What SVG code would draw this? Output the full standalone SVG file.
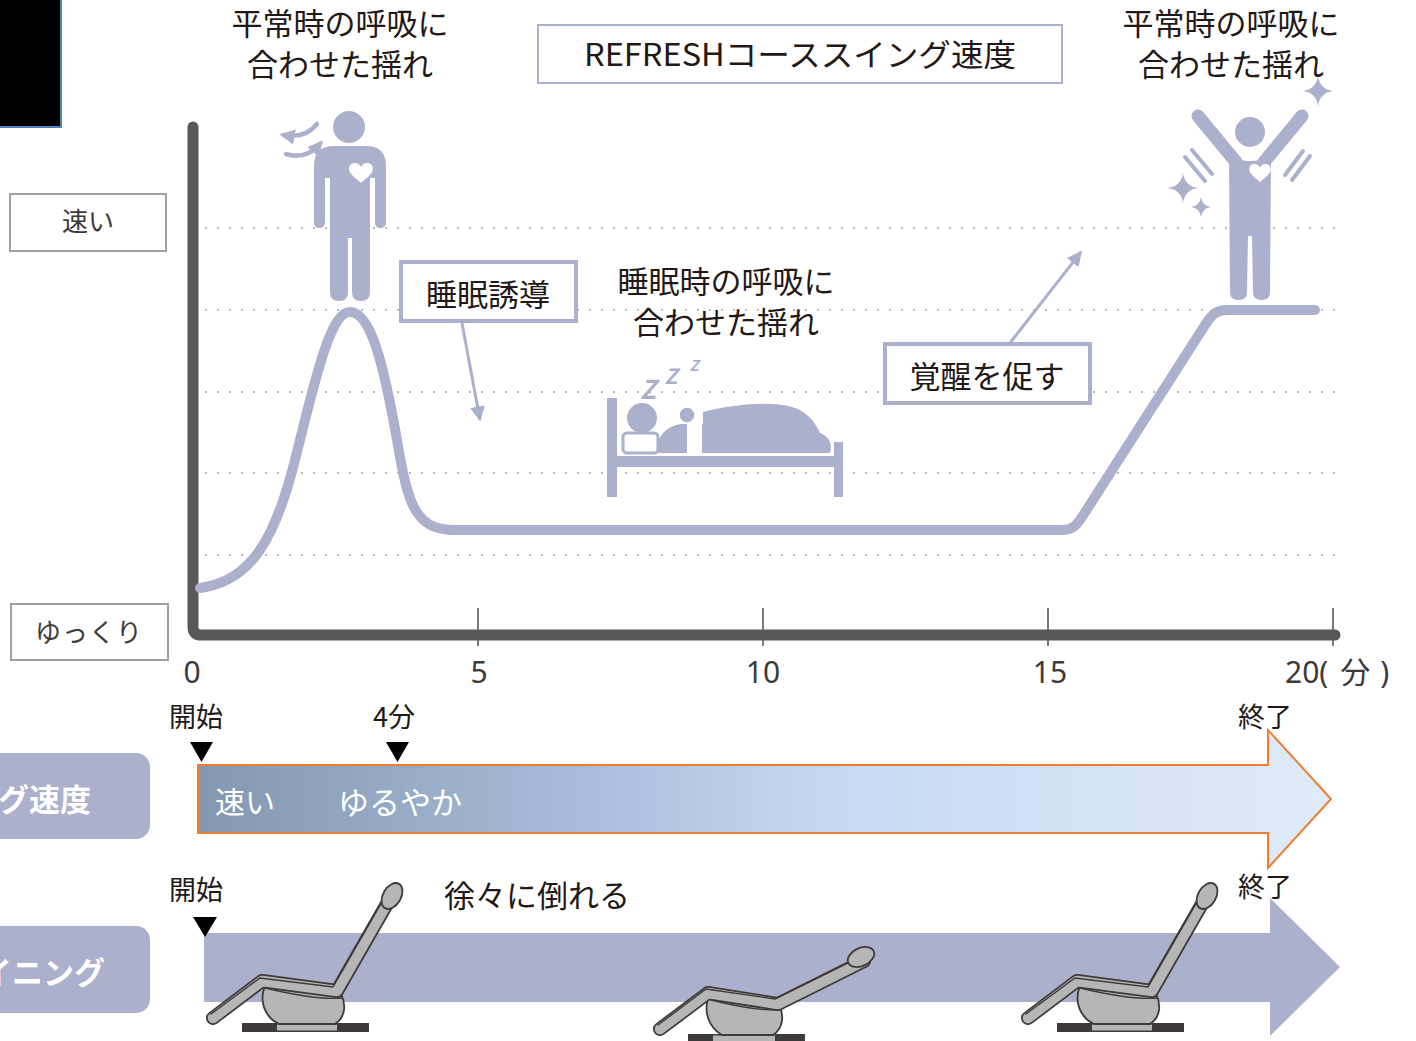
<svg xmlns="http://www.w3.org/2000/svg" width="1416" height="1041" viewBox="0 0 1416 1041">
  <style>
    text { font-family: "Noto Sans CJK JP", "Noto Sans", sans-serif; dominant-baseline: central; }
    .lbl { font-size: 31px; fill: #231815; text-anchor: middle; }
    .tick-lbl { font-size: 30px; fill: #3e3a39; text-anchor: middle; font-family: "Noto Sans", "Noto Sans CJK JP", sans-serif; }
    .tick-lbl.unit { text-anchor: start; }
    .small { font-size: 27px; fill: #231815; text-anchor: middle; }
    .axis-box { fill: #ffffff; stroke: #a0a0a0; stroke-width: 2; }
    .axis-box-txt { font-size: 26px; fill: #3e3a39; text-anchor: middle; }
    .callout { fill: #ffffff; stroke: #abb0cd; stroke-width: 4; }
    .grid { stroke: #b8b8b8; stroke-width: 2; stroke-dasharray: 2 10; fill: none; }
    .icon { fill: #abb0cd; }
    .pill { fill: #abb0cd; }
    .pill-txt { font-size: 31px; font-weight: bold; fill: #ffffff; text-anchor: end; }
    .tri { fill: #000000; }
    .conn { stroke: #abb0cd; stroke-width: 3; fill: none; }
    .chair-outline { fill: none; stroke: #3e3a39; stroke-linejoin: round; stroke-linecap: round; }
    .chair-fill { fill: none; stroke: #b5b6b6; stroke-linejoin: round; stroke-linecap: round; }
    .chair-line { fill: none; stroke: #3e3a39; stroke-width: 1.4; stroke-linecap: round; }
    .chair-pod { fill: #b5b6b6; stroke: #3e3a39; stroke-width: 1.8; }
  </style>
  <defs>
    <marker id="arrowhead" viewBox="0 0 10 10" refX="9" refY="5" markerWidth="5" markerHeight="5" orient="auto" markerUnits="strokeWidth">
      <path d="M0,0 L10,5 L0,10 Z" fill="#abb0cd"/>
    </marker>
    <marker id="arrowhead-sm" viewBox="0 0 10 10" refX="7" refY="5" markerWidth="3.4" markerHeight="3.4" orient="auto" markerUnits="strokeWidth">
      <path d="M0,0 L10,5 L0,10 Z" fill="#abb0cd"/>
    </marker>
    <path id="heart" d="M0,9 C-4,5 -12,0 -12,-5 C-12,-9 -9,-11 -6,-11 C-3,-11 -1,-9 0,-7 C1,-9 3,-11 6,-11 C9,-11 12,-9 12,-5 C12,0 4,5 0,9 Z" fill="#ffffff"/>
    <path id="sparkle" d="M0,-1 Q0.12,-0.12 1,0 Q0.12,0.12 0,1 Q-0.12,0.12 -1,0 Q-0.12,-0.12 0,-1 Z" fill="#abb0cd"/>
    <linearGradient id="speedGrad" x1="198" y1="0" x2="1331" y2="0" gradientUnits="userSpaceOnUse">
      <stop offset="0" stop-color="#8497b0"/>
      <stop offset="0.35" stop-color="#a9bedb"/>
      <stop offset="0.55" stop-color="#c5d8f3"/>
      <stop offset="1" stop-color="#e0ebf8"/>
    </linearGradient>
    <!-- recliner seen from the side, back upright -->
    <g id="chair-upright">
      <rect x="242" y="1023" width="127" height="9" fill="#3e3a39"/>
      <rect x="277" y="1024.5" width="60" height="6" fill="#b5b6b6"/>
      <path class="chair-pod" d="M265,986 C259,1000 264,1017 279,1024 L335,1024 C346,1017 346,1004 341,994 Z"/>
      <path class="chair-outline" stroke-width="14" d="M213,1018 L262,981 L337,991 L391,897"/>
      <path class="chair-fill" stroke-width="10.5" d="M213,1018 L262,981 L337,991 L391,897"/>
      <path class="chair-line" d="M211,1014 L260,978 L333,987 L386,895"/>
      <path class="chair-line" d="M265,988 C290,994 320,1000 342,998"/>
      <ellipse cx="392" cy="896" rx="9" ry="14" transform="rotate(30 392 896)" fill="#b5b6b6" stroke="#3e3a39" stroke-width="1.8"/>
    </g>
  </defs>

  <!-- corner tab -->
  <rect x="-5" y="-5" width="66" height="132" fill="#000000" stroke="#4f81bd" stroke-width="2"/>

  <!-- speed scale labels -->
  <g id="label-fast">
    <rect class="axis-box" x="10" y="194" width="156" height="57"/>
    <text class="axis-box-txt" x="88" y="219">速い</text>
  </g>
  <g id="label-slow">
    <rect class="axis-box" x="11" y="604" width="157" height="56"/>
    <text class="axis-box-txt" x="89" y="630" letter-spacing="1">ゆっくり</text>
  </g>

  <!-- grid -->
  <g id="grid">
    <line class="grid" x1="205" y1="228" x2="1335" y2="228"/>
    <line class="grid" x1="205" y1="310" x2="1335" y2="310"/>
    <line class="grid" x1="205" y1="392" x2="1335" y2="392"/>
    <line class="grid" x1="205" y1="473" x2="1335" y2="473"/>
    <line class="grid" x1="205" y1="555" x2="1335" y2="555"/>
  </g>

  <!-- axes and ticks -->
  <g id="axes">
    <path d="M193,127 L193,627 Q193,635 201,635 L1335,635" fill="none" stroke="#595757" stroke-width="11" stroke-linecap="round"/>
    <g stroke="#595757" stroke-width="1.6">
      <line x1="478" y1="608" x2="478" y2="646"/>
      <line x1="763" y1="608" x2="763" y2="646"/>
      <line x1="1048" y1="608" x2="1048" y2="646"/>
      <line x1="1333" y1="608" x2="1333" y2="646"/>
    </g>
    <text class="tick-lbl" x="192" y="671">0</text>
    <text class="tick-lbl" x="479" y="671">5</text>
    <text class="tick-lbl" x="763" y="671">10</text>
    <text class="tick-lbl" x="1050" y="671">15</text>
    <text class="tick-lbl unit" x="1285" y="671">20(<tspan dx="12">分</tspan><tspan dx="10">)</tspan></text>
  </g>

  <!-- swing speed curve -->
  <path id="speed-curve" d="M200,588 C250,582 275,540 295,460 C315,380 330,312 350,312 C370,312 383,360 397,440 C408,505 415,530 455,530 L1062,530 C1072,530 1076,526 1082,517 L1207,322 C1213,313 1218,310 1228,310 L1315,310" fill="none" stroke="#abb0cd" stroke-width="10" stroke-linecap="round" stroke-linejoin="round"/>

  <!-- title -->
  <g id="title">
    <rect x="538" y="25" width="524" height="58" fill="#ffffff" stroke="#abb0cd" stroke-width="2"/>
    <text class="lbl" x="800" y="52" textLength="432" lengthAdjust="spacingAndGlyphs">REFRESHコーススイング速度</text>
  </g>

  <g id="label-start">
    <text class="lbl" x="340" y="21">平常時の呼吸に</text>
    <text class="lbl" x="340" y="62">合わせた揺れ</text>
  </g>
  <g id="label-end">
    <text class="lbl" x="1231" y="21">平常時の呼吸に</text>
    <text class="lbl" x="1231" y="62">合わせた揺れ</text>
  </g>
  <g id="label-sleep">
    <text class="lbl" x="726" y="279">睡眠時の呼吸に</text>
    <text class="lbl" x="726" y="320">合わせた揺れ</text>
  </g>

  <!-- standing person, resting breath -->
  <g id="person-calm">
    <circle class="icon" cx="349" cy="127" r="16"/>
    <path class="icon" d="M314,222 L314,166 Q314,146 334,146 L366,146 Q386,146 386,166 L386,222 Q386,228 380,228 Q375,228 375,222 L375,178 L370,178 L370,292 Q370,301 361,301 Q352,301 352,292 L352,238 L348,238 L348,292 Q348,301 339,301 Q330,301 330,292 L330,178 L325,178 L325,222 Q325,228 319.5,228 Q314,228 314,222 Z"/>
    <use href="#heart" transform="translate(361 174)"/>
    <path d="M317,124 Q305,139 284,135" fill="none" stroke="#abb0cd" stroke-width="4.5" stroke-linecap="round" marker-end="url(#arrowhead-sm)"/>
    <path d="M286,154 Q306,160 320,144" fill="none" stroke="#abb0cd" stroke-width="4.5" stroke-linecap="round" marker-end="url(#arrowhead-sm)"/>
  </g>

  <!-- sleeping person in bed -->
  <g id="sleeper">
    <rect class="icon" x="607" y="398" width="10" height="99"/>
    <rect class="icon" x="834" y="442" width="9" height="55"/>
    <rect class="icon" x="617" y="456" width="217" height="11"/>
    <rect x="623" y="433" width="35" height="20" rx="4" fill="#ffffff" stroke="#abb0cd" stroke-width="3"/>
    <circle class="icon" cx="642" cy="418" r="15"/>
    <path class="icon" d="M657,453 C656,437 666,426 681,424 L703,424 L703,412 C735,404 770,401 792,407 C806,411 814,420 820,433 C829,436 833,445 830,453 Z"/>
    <rect x="687" y="423" width="15" height="31" fill="#ffffff"/>
    <circle class="icon" cx="687" cy="415" r="8" stroke="#ffffff" stroke-width="1.5"/>
    <text x="648" y="387" font-size="26" font-weight="bold" font-style="italic" fill="#abb0cd" text-anchor="middle" font-family="Liberation Sans, sans-serif">Z</text>
    <text x="671" y="375" font-size="21" font-weight="bold" font-style="italic" fill="#abb0cd" text-anchor="middle" font-family="Liberation Sans, sans-serif">Z</text>
    <text x="694" y="364" font-size="15" font-weight="bold" font-style="italic" fill="#abb0cd" text-anchor="middle" font-family="Liberation Sans, sans-serif">Z</text>
  </g>

  <!-- standing person, awake -->
  <g id="person-awake">
    <circle class="icon" cx="1250" cy="132" r="15"/>
    <line x1="1198" y1="116" x2="1236" y2="162" stroke="#abb0cd" stroke-width="13" stroke-linecap="round"/>
    <line x1="1302" y1="116" x2="1264" y2="162" stroke="#abb0cd" stroke-width="13" stroke-linecap="round"/>
    <path class="icon" d="M1229,156 Q1250,166 1271,156 L1270,292 Q1270,300 1261.5,300 Q1253,300 1253,292 L1252,236 L1248,236 L1247,292 Q1247,300 1238.5,300 Q1230,300 1230,292 Z"/>
    <use href="#heart" transform="translate(1260 174) scale(0.9)"/>
    <g stroke="#abb0cd" stroke-width="4" stroke-linecap="round">
      <line x1="1185" y1="157" x2="1205" y2="181"/>
      <line x1="1192" y1="150" x2="1212" y2="174"/>
      <line x1="1285" y1="175" x2="1303" y2="151"/>
      <line x1="1292" y1="180" x2="1310" y2="156"/>
    </g>
    <use href="#sparkle" transform="translate(1318 91) scale(15)"/>
    <use href="#sparkle" transform="translate(1183 188) scale(15)"/>
    <use href="#sparkle" transform="translate(1201 207) scale(10)"/>
  </g>

  <!-- callouts -->
  <g id="callout-induce">
    <rect class="callout" x="401" y="262" width="175" height="59"/>
    <text class="lbl" x="488" y="292">睡眠誘導</text>
  </g>
  <g id="callout-wake">
    <rect class="callout" x="885" y="344" width="205" height="59"/>
    <text class="lbl" x="987" y="374">覚醒を促す</text>
  </g>

  <g id="connectors">
    <line class="conn" x1="462" y1="323" x2="480" y2="420" marker-end="url(#arrowhead)"/>
    <line class="conn" x1="1010" y1="343" x2="1081" y2="252" marker-end="url(#arrowhead)"/>
  </g>

  <!-- swing speed timeline -->
  <g id="pill-speed">
    <rect class="pill" x="-20" y="753" width="170" height="86" rx="14"/>
    <text class="pill-txt" x="91" y="797">ング速度</text>
  </g>
  <g id="speed-bar">
    <path d="M198,765 L1268,765 L1268,730 L1331,799 L1268,868 L1268,833 L198,833 Z" fill="url(#speedGrad)" stroke="#ed7d31" stroke-width="2"/>
    <text x="215" y="800" font-size="30" fill="#ffffff">速い</text>
    <text x="338" y="800" font-size="31" fill="#ffffff">ゆるやか</text>
  </g>
  <g id="speed-marks">
    <text class="small" x="196" y="715">開始</text>
    <path class="tri" d="M190,742 L213,742 L201.5,762 Z"/>
    <text class="small" x="394" y="715">4分</text>
    <path class="tri" d="M386,742 L409,742 L397.5,762 Z"/>
    <text class="small" x="1265" y="715">終了</text>
  </g>

  <!-- reclining timeline -->
  <g id="pill-recline">
    <rect class="pill" x="-20" y="926" width="170" height="87" rx="14"/>
    <text class="pill-txt" x="105" y="970">リクライニング</text>
  </g>
  <g id="recline-bar">
    <path d="M204,933 L1270,933 L1270,898 L1340,967 L1270,1036 L1270,1002 L204,1002 Z" fill="#abb0cd"/>
  </g>
  <g id="recline-marks">
    <text class="small" x="196" y="888">開始</text>
    <path class="tri" d="M193,917 L217,917 L205,937 Z"/>
    <text class="small" x="1265" y="885">終了</text>
    <text class="lbl" x="537" y="893">徐々に倒れる</text>
  </g>

  <!-- recliner positions -->
  <g id="chair-start">
    <use href="#chair-upright"/>
  </g>
  <g id="chair-middle">
    <rect x="688" y="1034" width="117" height="9" fill="#3e3a39"/>
    <rect x="713" y="1035.5" width="62" height="6" fill="#b5b6b6"/>
    <path class="chair-pod" d="M709,996 C703,1010 708,1027 722,1035 L773,1035 C784,1028 784,1014 779,1004 Z"/>
    <path class="chair-outline" stroke-width="14" d="M660,1029 L708,993 L778,1004 L864,961"/>
    <path class="chair-fill" stroke-width="10.5" d="M660,1029 L708,993 L778,1004 L864,961"/>
    <path class="chair-line" d="M658,1025 L706,989 L775,999 L860,957"/>
    <path class="chair-line" d="M711,1000 C735,1006 760,1011 781,1010"/>
    <ellipse cx="861" cy="957" rx="14" ry="9" transform="rotate(-25 861 957)" fill="#b5b6b6" stroke="#3e3a39" stroke-width="1.8"/>
  </g>
  <g id="chair-end">
    <use href="#chair-upright" transform="translate(815 0)"/>
  </g>
</svg>
